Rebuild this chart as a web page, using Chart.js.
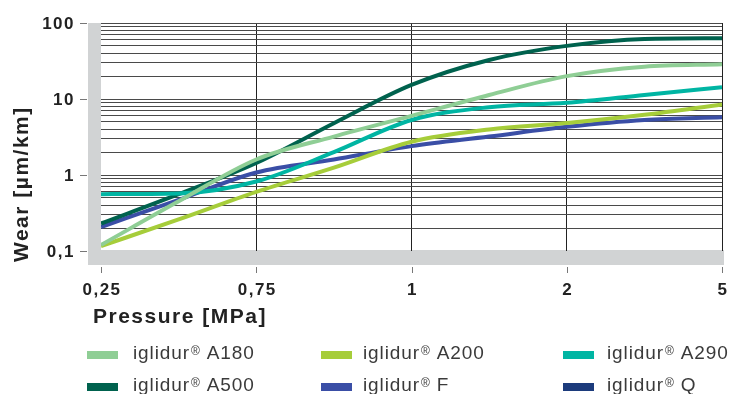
<!DOCTYPE html>
<html>
<head>
<meta charset="utf-8">
<script src="https://cdn.jsdelivr.net/npm/chart.js@4.4.1/dist/chart.umd.min.js"></script>
<style>
  body { margin: 0; background: #fff; }
  #wrap { position: relative; width: 731px; height: 394px; }
  #legend { position: absolute; left: 0; top: 0; width: 731px; height: 394px; pointer-events: none;
            font-family: "Liberation Sans", Arial, sans-serif; font-size: 19px; color: #3a3a3a; }
  .sw { position: absolute; width: 31px; height: 8px; }
  .txt { position: absolute; line-height: 20px; letter-spacing: 0.9px; white-space: nowrap; }
  .txt sup { font-size: 12px; position: relative; top: -2px; vertical-align: top; margin-left: 1px; margin-right: 6px; }
</style>
</head>
<body>
<div id="wrap">
  <canvas id="chart" width="731" height="394"></canvas>
  <div id="legend"></div>
</div>
<script>
// pressure categories (equally spaced on the chart)
const pressureLabels = ['0,25', '0,75', '1', '2', '5'];
// positions read along the x axis (0 = 0,25 ... 4 = 5), half steps between categories
const xPos = [0, 0.5, 1, 1.5, 2, 2.5, 3, 3.5, 4];

// wear [µm/km]
const wearA180 = [0.12, 0.45, 1.6, 3.2, 6.0, 11.3, 20, 26.6, 28.6];
const wearA200 = [0.116, 0.26, 0.60, 1.25, 2.74, 3.97, 4.83, 6.2, 8.5];
const wearA290 = [0.56, 0.57, 0.82, 2.0, 5.3, 7.8, 8.9, 11.3, 14.3];
const wearA500 = [0.23, 0.56, 1.44, 4.8, 15.3, 32.6, 50, 61.7, 63];
const wearF = [0.207, 0.47, 1.08, 1.6, 2.4, 3.2, 4.3, 5.3, 5.74];
const wearQ = []; // not visible in the picture

const seriesNames = ['A180', 'A200', 'A290', 'A500', 'F', 'Q'];
const seriesColors = ['#8fce95', '#a6cd3a', '#00b5a3', '#00624e', '#3a4ea6', '#1c3b7c'];

// y axis
const yLabelValues = [0.1, 1, 10, 100];
const yLabelTexts = ['0,1', '1', '10', '100'];
const yGridValues = [0.1, 0.2, 0.3, 0.4, 0.5, 0.6, 0.7, 0.8, 0.9,
                     1, 2, 3, 4, 5, 6, 7, 8, 9,
                     10, 20, 30, 40, 50, 60, 70, 80, 90, 100];

const toPoints = (vals) => vals.map((v, i) => ({ x: xPos[i], y: v }));
const allWear = [wearA180, wearA200, wearA290, wearA500, wearF, wearQ];

const datasets = allWear.map((vals, i) => ({
    label: 'iglidur® ' + seriesNames[i],
    data: toPoints(vals),
    borderColor: seriesColors[i],
    backgroundColor: seriesColors[i],
    borderWidth: 4,
    pointRadius: 0,
    cubicInterpolationMode: 'monotone',
    fill: false
}));

const GRAY = '#d1d3d4';
const FONT = '"Liberation Sans", Arial, sans-serif';

const decoPlugin = {
    id: 'deco',
    beforeDraw(chart) {
        const { ctx, chartArea: a } = chart;
        ctx.save();
        // gray bands left and bottom
        ctx.fillStyle = GRAY;
        ctx.fillRect(a.left - 13, a.top, 13, a.bottom - a.top + 14);
        ctx.fillRect(a.left - 13, a.bottom - 1, a.right - a.left + 15, 15);
        ctx.restore();
    },
    afterDraw(chart) {
        const { ctx, chartArea: a, scales } = chart;
        const xs = scales.x, ys = scales.y;
        ctx.save();
        // tick marks
        ctx.strokeStyle = '#777';
        ctx.lineWidth = 1;
        pressureLabels.forEach((t, i) => {
            const px = Math.round(xs.getPixelForValue(i)) + 0.5;
            ctx.beginPath(); ctx.moveTo(px, a.bottom + 16); ctx.lineTo(px, a.bottom + 22); ctx.stroke();
        });
        yLabelValues.forEach((v) => {
            const py = Math.round(ys.getPixelForValue(v)) + 0.5;
            ctx.beginPath(); ctx.moveTo(a.left - 21, py); ctx.lineTo(a.left - 14, py); ctx.stroke();
        });
        // tick labels
        ctx.fillStyle = '#222';
        ctx.font = 'bold 17px ' + FONT;
        ctx.letterSpacing = '1.5px';
        ctx.textBaseline = 'middle';
        ctx.textAlign = 'center';
        pressureLabels.forEach((t, i) => {
            ctx.fillText(t, xs.getPixelForValue(i) + 1, a.bottom + 39);
        });
        ctx.textAlign = 'right';
        yLabelValues.forEach((v, i) => {
            ctx.fillText(yLabelTexts[i], a.left - 26, ys.getPixelForValue(v) + 1);
        });
        // axis titles
        ctx.font = 'bold 21px ' + FONT;
        ctx.letterSpacing = '1.5px';
        ctx.textAlign = 'left';
        ctx.fillText('Pressure [MPa]', 93, 317);
        ctx.translate(22, 262);
        ctx.rotate(-Math.PI / 2);
        ctx.fillText('Wear [µm/km]', 0, 0);
        ctx.restore();
    }
};

new Chart(document.getElementById('chart').getContext('2d'), {
    type: 'line',
    data: { datasets: datasets },
    options: {
        responsive: false,
        animation: false,
        devicePixelRatio: 1,
        layout: { padding: { left: 101, right: 9, top: 23, bottom: 143 } },
        plugins: { legend: { display: false }, tooltip: { enabled: false } },
        scales: {
            x: {
                type: 'linear', min: 0, max: 4,
                afterBuildTicks: (s) => { s.ticks = pressureLabels.map((t, i) => ({ value: i })); },
                ticks: { display: false },
                border: { display: false },
                grid: {
                    drawTicks: false,
                    color: (c) => c.index === 0 ? 'rgba(0,0,0,0)' : '#222',
                    lineWidth: 1
                }
            },
            y: {
                type: 'logarithmic', min: 0.1, max: 100,
                afterBuildTicks: (s) => { s.ticks = yGridValues.map(v => ({ value: v })); },
                ticks: { display: false },
                border: { display: false },
                grid: {
                    drawTicks: false,
                    color: (c) => c.tick && c.tick.value === 0.1 ? 'rgba(0,0,0,0)' : '#4a4a4a',
                    lineWidth: 1
                }
            }
        }
    },
    plugins: [decoPlugin]
});

// legend (3 columns, 2 rows)
const legendCols = [{ sw: 87, tx: 133 }, { sw: 321, tx: 363 }, { sw: 563, tx: 607 }];
const legendRows = [{ sw: 351, tx: 343 }, { sw: 383, tx: 375 }];
const $legend = document.getElementById('legend');
seriesNames.forEach((name, k) => {
    const col = legendCols[k % 3], row = legendRows[Math.floor(k / 3)];
    const sw = document.createElement('div');
    sw.className = 'sw';
    sw.style.left = col.sw + 'px';
    sw.style.top = row.sw + 'px';
    sw.style.background = seriesColors[k];
    const tx = document.createElement('div');
    tx.className = 'txt';
    tx.style.left = col.tx + 'px';
    tx.style.top = row.tx + 'px';
    tx.innerHTML = 'iglidur<sup>®</sup>' + name;
    $legend.appendChild(sw);
    $legend.appendChild(tx);
});
</script>
</body>
</html>
